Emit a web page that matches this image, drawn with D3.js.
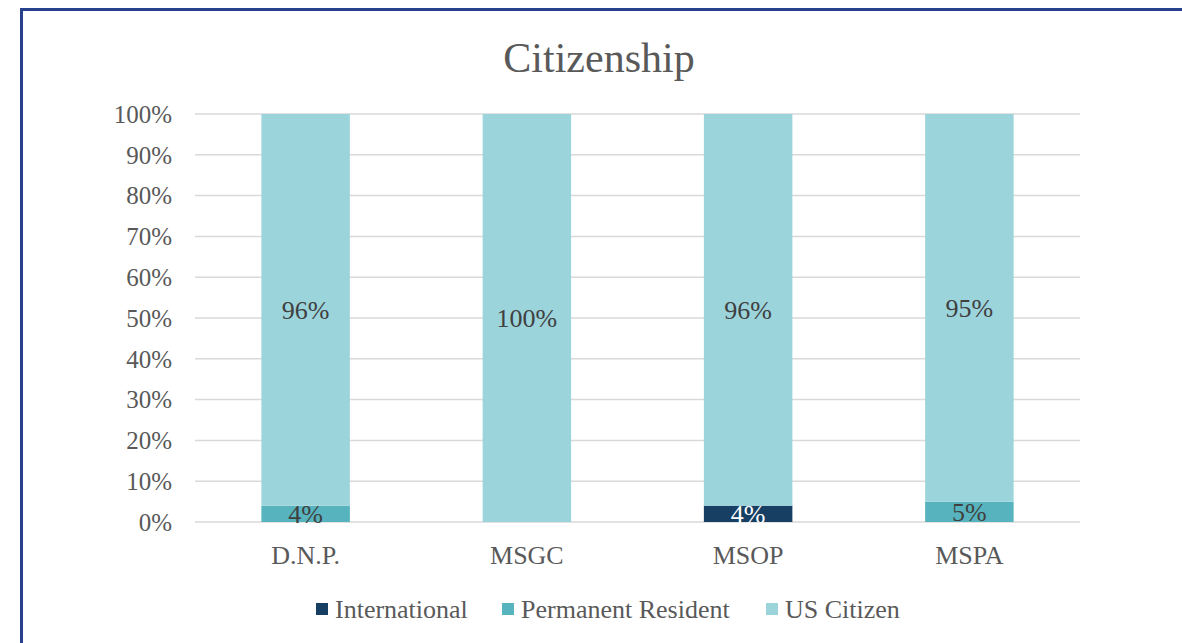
<!DOCTYPE html>
<html>
<head>
<meta charset="utf-8">
<title>Citizenship</title>
<script src="https://cdnjs.cloudflare.com/ajax/libs/d3/7.8.5/d3.min.js"></script>
<style>
  body { margin: 0; background: #fff; }
  text { font-family: "Liberation Serif", "Times New Roman", serif; }
</style>
</head>
<body>
<div id="chart"></div>
<script>
// data
const programs = ["D.N.P.", "MSGC", "MSOP", "MSPA"];
const seriesNames = ["International", "Permanent Resident", "US Citizen"];
const international = [0, 0, 4, 0];
const permanentResident = [4, 0, 0, 5];
const usCitizen = [96, 100, 96, 95];
const yTicks = [0, 10, 20, 30, 40, 50, 60, 70, 80, 90, 100];

const colors = ["#163f63", "#57b4be", "#9cd4dc"];
const labelColors = ["#ffffff", "#404040", "#404040"];

const W = 1182, H = 643;
const margin = {top: 114, right: 102, bottom: 121, left: 195};
const w = W - margin.left - margin.right;
const h = H - margin.top - margin.bottom;

const svg = d3.select("#chart").append("svg")
    .attr("width", W)
    .attr("height", H);

// frame
svg.append("rect")
    .attr("x", 21.5).attr("y", 9.5)
    .attr("width", 1180).attr("height", 660)
    .attr("fill", "none")
    .attr("stroke", "#27408b")
    .attr("stroke-width", 3);

// title
svg.append("text")
    .attr("x", 599).attr("y", 72)
    .attr("text-anchor", "middle")
    .attr("font-size", "42px")
    .attr("fill", "#595959")
    .text("Citizenship");

const g = svg.append("g")
    .attr("transform", "translate(" + margin.left + "," + margin.top + ")");

const table = programs.map((p, i) => ({
  program: p,
  "International": international[i],
  "Permanent Resident": permanentResident[i],
  "US Citizen": usCitizen[i]
}));
const stacked = d3.stack().keys(seriesNames)(table);

const x = d3.scaleBand().domain(programs).range([0, w]).paddingInner(0.6).paddingOuter(0.3);
const y = d3.scaleLinear().domain([0, 100]).range([h, 0]);

// grid
g.selectAll("line.grid")
  .data(yTicks)
  .enter().append("line")
    .attr("class", "grid")
    .attr("x1", 0).attr("x2", w)
    .attr("y1", d => y(d)).attr("y2", d => y(d))
    .attr("stroke", "#d9d9d9")
    .attr("stroke-width", 1.5);

// y axis labels
g.selectAll("text.ytick")
  .data(yTicks)
  .enter().append("text")
    .attr("class", "ytick")
    .attr("x", -23)
    .attr("y", d => y(d))
    .attr("dy", "0.35em")
    .attr("text-anchor", "end")
    .attr("font-size", "25px")
    .attr("fill", "#595959")
    .text(d => d + "%");

// bars
const layers = g.selectAll("g.layer")
  .data(stacked)
  .enter().append("g")
    .attr("class", "layer")
    .attr("fill", (d, i) => colors[i]);

layers.selectAll("rect")
  .data(d => d)
  .enter().append("rect")
    .attr("x", d => x(d.data.program))
    .attr("y", d => y(d[1]))
    .attr("width", x.bandwidth())
    .attr("height", d => y(d[0]) - y(d[1]));

// data labels
stacked.forEach((s, si) => {
  g.selectAll("text.lab" + si)
    .data(s.filter(d => d[1] - d[0] > 0))
    .enter().append("text")
      .attr("class", "lab" + si)
      .attr("x", d => x(d.data.program) + x.bandwidth() / 2)
      .attr("y", d => y((d[0] + d[1]) / 2))
      .attr("dy", "0.35em")
      .attr("text-anchor", "middle")
      .attr("font-size", "26px")
      .attr("fill", labelColors[si])
      .text(d => (d[1] - d[0]) + "%");
});

// x labels
g.selectAll("text.xtick")
  .data(programs)
  .enter().append("text")
    .attr("class", "xtick")
    .attr("x", d => x(d) + x.bandwidth() / 2)
    .attr("y", h + 42)
    .attr("text-anchor", "middle")
    .attr("font-size", "26px")
    .attr("fill", "#595959")
    .text(d => d);

// legend
const legendX = [316, 502, 766];
const legend = svg.selectAll("g.legend")
  .data(seriesNames)
  .enter().append("g")
    .attr("class", "legend")
    .attr("transform", (d, i) => "translate(" + legendX[i] + ",603)");
legend.append("rect")
    .attr("width", 12).attr("height", 12)
    .attr("fill", (d, i) => colors[i]);
legend.append("text")
    .attr("x", 19).attr("y", 6)
    .attr("dy", "0.35em")
    .attr("font-size", "26px")
    .attr("fill", "#595959")
    .text(d => d);
</script>
</body>
</html>
